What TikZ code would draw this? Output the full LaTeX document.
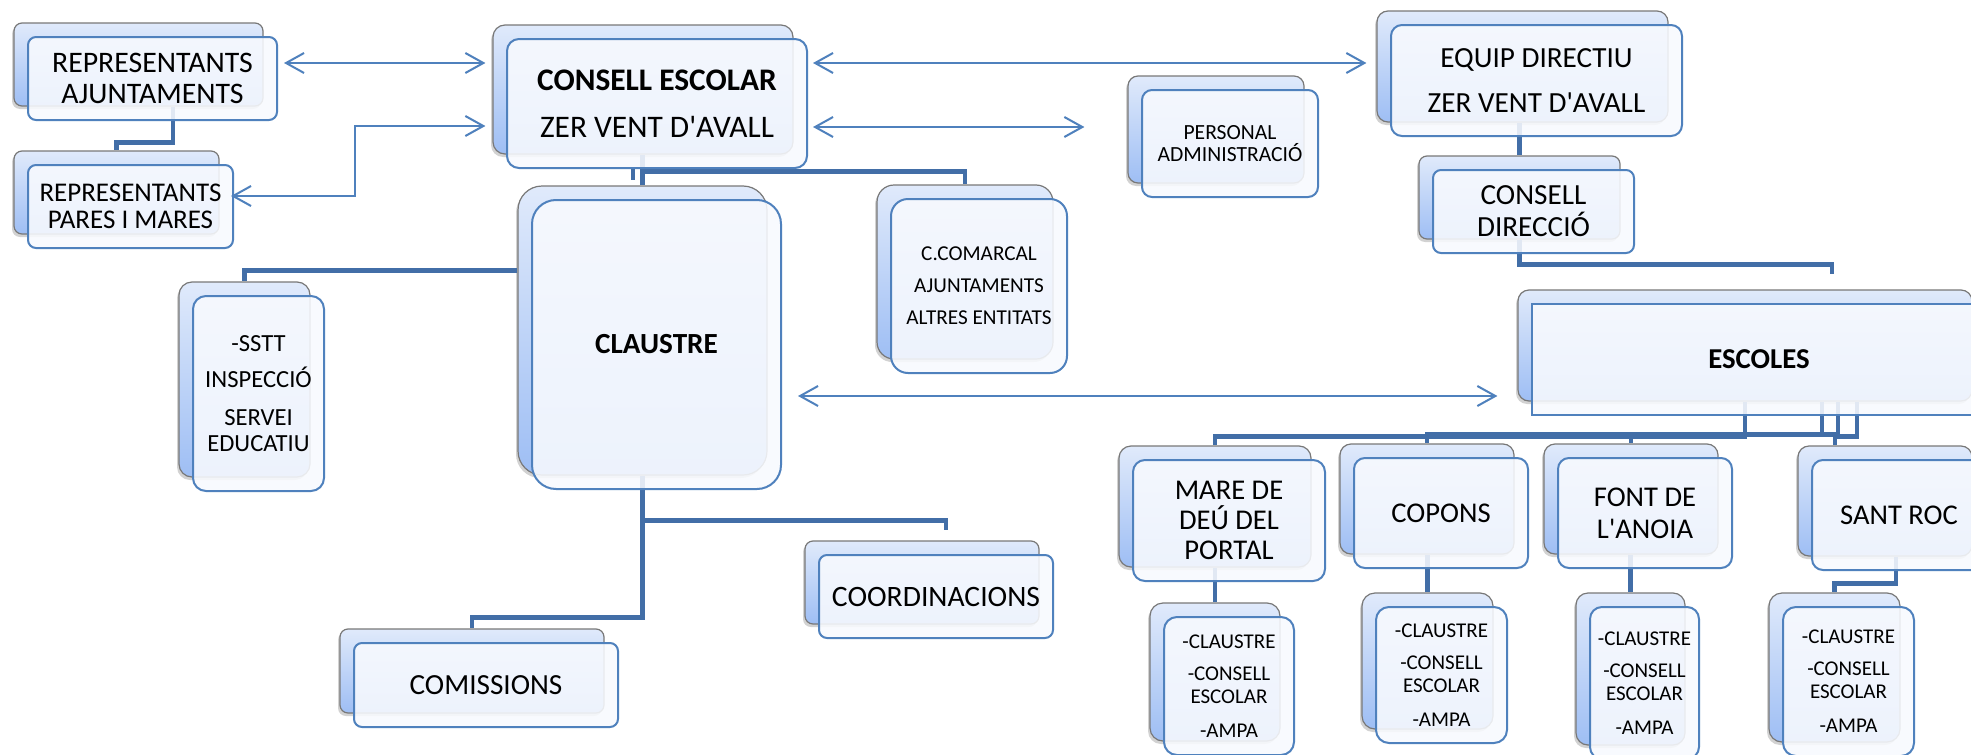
\documentclass[tikz,border=0pt]{standalone}
\usepackage{fontspec}
\setmainfont{Carlito}
\newfontfamily\calib{Carlito}
\usetikzlibrary{arrows.meta,shadows}
\definecolor{acc}{RGB}{79,129,189}
\definecolor{connc}{RGB}{66,110,167}
\definecolor{ffill}{RGB}{248,250,254}
\definecolor{btop}{RGB}{224,234,251}
\definecolor{bbot}{RGB}{158,190,244}
\definecolor{bdraw}{RGB}{120,120,120}
\pgfdeclarelayer{bk}
\pgfdeclarelayer{cn}
\pgfsetlayers{bk,cn,main}
\tikzset{
  fb/.style={draw=acc, line width=1pt, fill=ffill, fill opacity=0.88, text opacity=1,
    rounded corners=#1, inner sep=0pt, align=center, text=black},
  fb/.default=4pt,
  bb/.style={draw=bdraw, line width=0.6pt, top color=btop, bottom color=bbot,
    rounded corners=#1, inner sep=0pt,
    drop shadow={shadow xshift=-1pt, shadow yshift=-1.5pt, opacity=0.35}},
  bb/.default=4pt,
  conn/.style={draw=connc, line width=2.25pt},
  arr/.style={draw=acc, line width=1pt,
    {Straight Barb[length=9pt,width=10pt]}-{Straight Barb[length=9pt,width=10pt]}},
}
% name, cx, cy, width, height, radius, front options, text
\newcommand\twobox[8]{%
  \begin{pgfonlayer}{bk}
    \node[bb=#6, minimum width=#4, minimum height=#5] (#1-b) at ({#2-14},{#3-14}) {};
  \end{pgfonlayer}
  \node[fb=#6, minimum width=#4, minimum height=#5, #7] (#1) at (#2,#3) {#8};
}
\begin{document}
\calib
\begin{tikzpicture}[x=0.5pt,y=-0.5pt]
\useasboundingbox (0,0) rectangle (1971,755);
\begin{pgfonlayer}{bk}
  \fill[white] (0,0) rectangle (1971,755);
\end{pgfonlayer}
\begin{scope}
\clip (0,0) rectangle (1971,755);
\twobox{ra}{152.5}{78.5}{124.5pt}{41.5pt}{4pt}{font=\fontsize{14.9}{15.5}\selectfont}{REPRESENTANTS\\AJUNTAMENTS}
\twobox{rpm}{130.5}{206.5}{102.5pt}{41.5pt}{4pt}{font=\fontsize{13.5}{13.5}\selectfont}{REPRESENTANTS\\PARES I MARES}
\twobox{ce}{657}{103.5}{150pt}{64.5pt}{6pt}{font=\fontsize{15.7}{23.5}\selectfont}{\textbf{CONSELL ESCOLAR}\\ZER VENT D'AVALL}
\twobox{ed}{1536.5}{80.5}{145.5pt}{55.5pt}{5.5pt}{font=\fontsize{14.6}{22.5}\selectfont}{EQUIP DIRECTIU\\ZER VENT D'AVALL}
\twobox{pa}{1230}{143.5}{88pt}{53.5pt}{5pt}{font=\fontsize{10.8}{11}\selectfont}{PERSONAL\\ADMINISTRACIÓ}
\twobox{cd}{1533.5}{211.5}{100.5pt}{41.5pt}{4pt}{font=\fontsize{14.6}{16}\selectfont}{CONSELL\\DIRECCIÓ}
\twobox{claustre}{656.5}{344.5}{124.5pt}{144.5pt}{12pt}{font=\bfseries\fontsize{14.6}{16}\selectfont}{CLAUSTRE}
\twobox{sstt}{258.5}{393.5}{65.5pt}{97.5pt}{6.5pt}{font=\fontsize{12.3}{13}\selectfont}{-SSTT\\[5pt]INSPECCIÓ\\[6pt]SERVEI\\EDUCATIU}
\twobox{cc}{979}{286}{88pt}{87pt}{8.5pt}{font=\fontsize{10.6}{16}\selectfont}{C.COMARCAL\\AJUNTAMENTS\\ALTRES ENTITATS}
\twobox{coord}{936}{596.5}{117pt}{41.5pt}{4pt}{font=\fontsize{14.8}{16}\selectfont}{COORDINACIONS}
\twobox{comis}{486}{685}{132pt}{42pt}{4pt}{font=\fontsize{14.6}{16}\selectfont}{COMISSIONS}
\twobox{esc}{1759}{359.5}{227pt}{55.5pt}{5.5pt}{font=\bfseries\fontsize{14.4}{16}\selectfont, sharp corners}{ESCOLES}
\twobox{mare}{1229}{520.5}{96pt}{60.5pt}{6pt}{font=\fontsize{14.3}{15}\selectfont}{MARE DE\\DEÚ DEL\\PORTAL}
\twobox{cop}{1441}{513}{87pt}{55pt}{5.5pt}{font=\fontsize{14.3}{16}\selectfont}{COPONS}
\twobox{fda}{1645}{513}{87pt}{55pt}{5.5pt}{font=\fontsize{14.3}{16}\selectfont}{FONT DE\\L'ANOIA}
\twobox{sr}{1899}{515}{87pt}{55pt}{5.5pt}{font=\fontsize{14.3}{16}\selectfont}{SANT ROC}
\twobox{mares}{1229}{686}{65pt}{69pt}{6.5pt}{font=\fontsize{10.5}{11.5}\selectfont}{-CLAUSTRE\\[4.5pt]-CONSELL\\ESCOLAR\\[5.5pt]-AMPA}
\twobox{cops}{1441.5}{675}{65.5pt}{68pt}{6.5pt}{font=\fontsize{10.5}{11.5}\selectfont}{-CLAUSTRE\\[4.5pt]-CONSELL\\ESCOLAR\\[5.5pt]-AMPA}
\twobox{fdas}{1644.5}{683}{54.5pt}{76pt}{6pt}{font=\fontsize{10.5}{11.5}\selectfont}{-CLAUSTRE\\[4.5pt]-CONSELL\\ESCOLAR\\[5.5pt]-AMPA}
\twobox{srs}{1848.5}{681.5}{65.5pt}{74.5pt}{6.5pt}{font=\fontsize{10.5}{11.5}\selectfont}{-CLAUSTRE\\[4.5pt]-CONSELL\\ESCOLAR\\[5.5pt]-AMPA}
\end{scope}

\begin{pgfonlayer}{cn}
\draw[conn] ([shift={(34.5,0)}]ra-b.south) -- ++(0,36) -| (rpm-b.north);
\draw[conn] (claustre-b.north |- ce-b.south) -- (claustre-b.north);
\draw[conn] ([shift={(0,17)}]ce-b.south) -| (cc-b.north);
\draw[conn] ([shift={(-10,14)}]ce-b.south) -- ++(0,11);
\draw[conn] ([shift={(0,-60)}]claustre-b.west) -| (sstt-b.north);
\draw[conn] (claustre-b.south) -- ++(0,142) -| (comis-b.north);
\draw[conn] ([shift={(0,45)}]claustre-b.south) -| ([shift={(24,-10)}]coord-b.north);
\draw[conn] (cd-b.north |- ed-b.south) -- (cd-b.north);
\draw[conn] (cd-b.south) -- ++(0,25) -| ([shift={(87,-15)}]esc-b.north);
\draw[conn] (esc-b.south) -- ++(0,35) -| (mare-b.north);
\draw[conn] ([shift={(77,0)}]esc-b.south) -- ++(0,33) -| (cop-b.north);
\draw[conn] ([shift={(93,0)}]esc-b.south) -- ++(0,33) -| (fda-b.north);
\draw[conn] ([shift={(112,0)}]esc-b.south) -- ++(0,35) -| ([shift={(-50,0)}]sr-b.north);
\draw[conn] (mares-b.north |- mare-b.south) -- (mares-b.north);
\draw[conn] (cops-b.north |- cop-b.south) -- (cops-b.north);
\draw[conn] (fdas-b.north |- fda-b.south) -- (fdas-b.north);
\draw[conn] ([shift={(11,0)}]sr-b.south) -- ++(0,27) -| (srs-b.north);
\end{pgfonlayer}

\draw[arr] ([shift={(6,-15.5)}]ra.east) -- ([shift={(-7,-26.5)}]ce-b.west);
\draw[arr] ([shift={(-7,36.5)}]ce-b.west) -- ++(-130,0) |- ([shift={(-3,-10.5)}]rpm.east);
\draw[arr] ([shift={(5,-40.5)}]ce.east) -- ([shift={(-10,-3.5)}]ed-b.west);
\draw[arr] ([shift={(5,23.5)}]ce.east) -- ([shift={(-43,-2.5)}]pa-b.west);
\draw[arr] ([shift={(16,51.5)}]claustre.east) -- ([shift={(-20,50.5)}]esc-b.west);
\end{tikzpicture}
\end{document}
